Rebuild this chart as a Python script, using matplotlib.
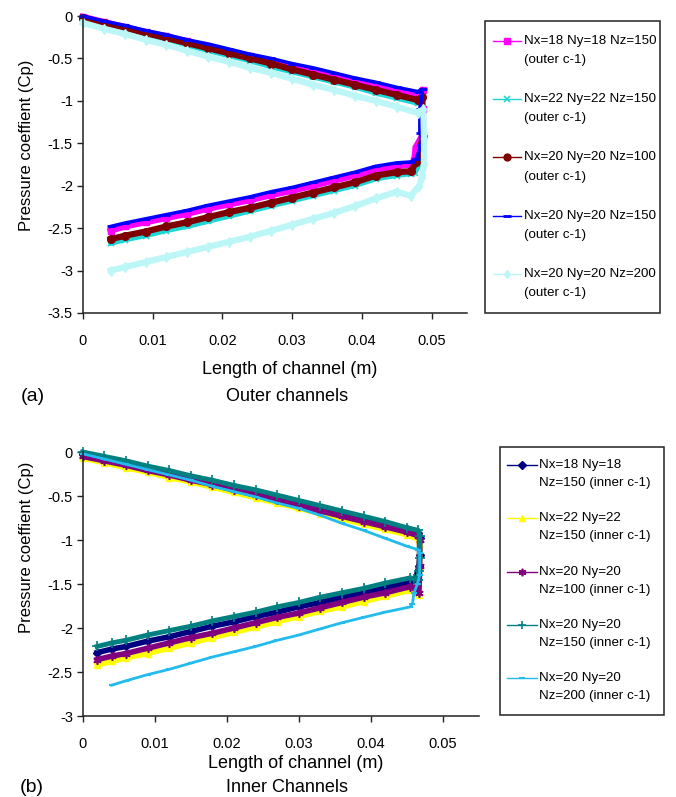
import numpy as np
import matplotlib.pyplot as plt
from matplotlib.lines import Line2D
from matplotlib.patches import Rectangle
from matplotlib.ticker import FuncFormatter

plt.rcParams['font.family'] = ['Liberation Sans', 'DejaVu Sans']
plt.rcParams['axes.unicode_minus'] = False

# ---------------- (a) outer channels ----------------
a_up_x = [0, 0.003, 0.006, 0.009, 0.012, 0.015, 0.018, 0.021, 0.024,
          0.027, 0.030, 0.033, 0.036, 0.039, 0.042, 0.045, 0.048]
a_low_x = [0.047, 0.045, 0.042, 0.039, 0.036, 0.033, 0.030, 0.027,
           0.024, 0.021, 0.018, 0.015, 0.012, 0.009, 0.006, 0.004]

a_labels = [('Nx=18 Ny=18 Nz=150', '(outer c-1)'),
            ('Nx=22 Ny=22 Nz=150', '(outer c-1)'),
            ('Nx=20 Ny=20 Nz=100', '(outer c-1)'),
            ('Nx=20 Ny=20 Nz=150', '(outer c-1)'),
            ('Nx=20 Ny=20 Nz=200', '(outer c-1)')]

a_up = [
    [-0.01, -0.07, -0.13, -0.19, -0.24, -0.30, -0.36, -0.42, -0.47,
     -0.53, -0.59, -0.65, -0.70, -0.76, -0.82, -0.88, -0.93],
    [-0.04, -0.10, -0.16, -0.23, -0.29, -0.35, -0.41, -0.47, -0.53,
     -0.60, -0.66, -0.72, -0.78, -0.84, -0.91, -0.97, -1.03],
    [-0.02, -0.08, -0.14, -0.20, -0.26, -0.32, -0.38, -0.44, -0.50,
     -0.56, -0.63, -0.69, -0.75, -0.81, -0.87, -0.93, -0.99],
    [0.00, -0.06, -0.11, -0.17, -0.22, -0.28, -0.33, -0.39, -0.45,
     -0.50, -0.56, -0.61, -0.67, -0.73, -0.78, -0.84, -0.89],
    [-0.08, -0.15, -0.21, -0.28, -0.34, -0.41, -0.48, -0.54, -0.61,
     -0.67, -0.74, -0.81, -0.87, -0.94, -1.00, -1.07, -1.14],
]
a_turn_x = [
    [0.0487, 0.0487, 0.0487, 0.0477, 0.0475],
    [0.0486, 0.0488, 0.0482, 0.0476],
    [0.0486, 0.0486, 0.0484, 0.0478],
    [0.0487, 0.0483, 0.0483, 0.0487, 0.0485, 0.0478],
    [0.0488, 0.0489, 0.0489, 0.0486, 0.0482],
]
a_turn_y = [
    [-0.87, -1.10, -1.40, -1.55, -1.70],
    [-1.00, -1.50, -1.75, -1.85],
    [-0.95, -1.50, -1.60, -1.72],
    [-0.86, -1.10, -1.38, -1.42, -1.52, -1.68],
    [-1.10, -1.45, -1.75, -1.90, -2.00],
]
a_low = [
    [-1.75, -1.77, -1.81, -1.88, -1.94, -2.00, -2.06, -2.11,
     -2.17, -2.22, -2.27, -2.33, -2.38, -2.43, -2.48, -2.53],
    [-1.86, -1.88, -1.92, -2.00, -2.06, -2.12, -2.18, -2.24,
     -2.30, -2.36, -2.42, -2.48, -2.53, -2.59, -2.64, -2.68],
    [-1.83, -1.84, -1.88, -1.96, -2.02, -2.08, -2.14, -2.20,
     -2.26, -2.31, -2.37, -2.43, -2.48, -2.54, -2.59, -2.63],
    [-1.72, -1.73, -1.77, -1.84, -1.90, -1.96, -2.02, -2.07,
     -2.13, -2.18, -2.23, -2.29, -2.34, -2.39, -2.44, -2.48],
    [-2.12, -2.07, -2.15, -2.24, -2.32, -2.39, -2.46, -2.53,
     -2.60, -2.66, -2.72, -2.78, -2.84, -2.90, -2.96, -3.00],
]

# ---------------- (b) inner channels ----------------
b_up_x = [0, 0.003, 0.006, 0.009, 0.012, 0.015, 0.018, 0.021, 0.024,
          0.027, 0.030, 0.033, 0.036, 0.039, 0.042, 0.045, 0.0466]
b_low_x = [0.0455, 0.042, 0.039, 0.036, 0.033, 0.030, 0.027, 0.024,
           0.021, 0.018, 0.015, 0.012, 0.009, 0.006, 0.004, 0.002]

b_labels = [('Nx=18 Ny=18', 'Nz=150 (inner c-1)'),
            ('Nx=22 Ny=22', 'Nz=150 (inner c-1)'),
            ('Nx=20 Ny=20', 'Nz=100 (inner c-1)'),
            ('Nx=20 Ny=20', 'Nz=150 (inner c-1)'),
            ('Nx=20 Ny=20', 'Nz=200 (inner c-1)')]

b_up = [
    [-0.02, -0.07, -0.12, -0.18, -0.23, -0.29, -0.35, -0.40, -0.46,
     -0.52, -0.58, -0.64, -0.70, -0.76, -0.82, -0.88, -0.92],
    [-0.07, -0.12, -0.18, -0.23, -0.29, -0.34, -0.40, -0.46, -0.52,
     -0.58, -0.64, -0.70, -0.76, -0.82, -0.88, -0.94, -0.99],
    [-0.05, -0.10, -0.15, -0.21, -0.26, -0.32, -0.37, -0.43, -0.49,
     -0.55, -0.61, -0.67, -0.73, -0.79, -0.85, -0.91, -0.95],
    [0.00, -0.05, -0.10, -0.16, -0.21, -0.27, -0.32, -0.38, -0.43,
     -0.49, -0.55, -0.61, -0.67, -0.73, -0.79, -0.86, -0.89],
    [-0.02, -0.08, -0.14, -0.20, -0.26, -0.32, -0.39, -0.45, -0.51,
     -0.58, -0.64, -0.72, -0.81, -0.89, -0.98, -1.07, -1.11],
]
b_turn_x = [
    [0.0468, 0.0468, 0.0467, 0.0462],
    [0.0468, 0.0468, 0.0467, 0.0462],
    [0.0468, 0.0468, 0.0467, 0.0462],
    [0.0468, 0.0468, 0.0467, 0.0465, 0.0460],
    [0.0468, 0.0468, 0.0465, 0.0460, 0.0458],
]
b_turn_y = [
    [-0.98, -1.17, -1.30, -1.45],
    [-1.05, -1.30, -1.62, -1.60],
    [-1.00, -1.30, -1.60, -1.55],
    [-0.95, -1.20, -1.35, -1.45, -1.44],
    [-1.15, -1.40, -1.50, -1.60, -1.73],
]
b_low = [
    [-1.48, -1.54, -1.60, -1.65, -1.71, -1.76, -1.82, -1.87,
     -1.93, -1.98, -2.04, -2.10, -2.15, -2.21, -2.24, -2.28],
    [-1.57, -1.64, -1.70, -1.76, -1.81, -1.87, -1.93, -1.99,
     -2.05, -2.11, -2.17, -2.23, -2.29, -2.34, -2.38, -2.42],
    [-1.53, -1.60, -1.65, -1.71, -1.77, -1.83, -1.88, -1.94,
     -2.00, -2.06, -2.11, -2.17, -2.23, -2.29, -2.32, -2.36],
    [-1.43, -1.49, -1.55, -1.60, -1.65, -1.71, -1.76, -1.82,
     -1.87, -1.92, -1.98, -2.03, -2.08, -2.14, -2.17, -2.21],
    [-1.76, -1.82, -1.88, -1.94, -2.01, -2.08, -2.14, -2.21,
     -2.27, -2.33, -2.40, -2.47, -2.53, -2.60, -2.65, np.nan],
]

# styles
a_style = [
    dict(color='#FF00FF', marker='s', ms=5, lw=4.5),
    dict(color='#1ED6D6', marker='x', ms=5, mew=1.2, lw=3.5),
    dict(color='#7F0000', marker='o', ms=5.5, lw=4.5),
    dict(color='#0000FF', marker='_', ms=6, mew=2, lw=2.5),
    dict(color='#BDF6F6', marker='d', ms=5, lw=4.5),
]
b_style = [
    dict(color='#000080', marker='D', ms=4.5, lw=4),
    dict(color='#FFFF00', marker='^', ms=5, lw=4),
    dict(color='#800080', marker=(6, 2, 0), ms=6, mew=1.2, lw=4),
    dict(color='#008080', marker='+', ms=7, mew=1.2, lw=3.5),
    dict(color='#22BBEE', marker='_', ms=5, mew=1.5, lw=2),
]

W, H = 676, 797
fig = plt.figure(figsize=(W / 100, H / 100), dpi=100)


def fx(px):
    return px / W


def fy(py):
    return 1 - py / H


ax_a = fig.add_axes([fx(82.7), fy(313), (466.6 - 82.7) / W, (313 - 16) / H])
ax_b = fig.add_axes([fx(82.7), fy(716), (478.7 - 82.7) / W, (716 - 452) / H])


def fmt(v, pos):
    s = ('%.2f' % v).rstrip('0').rstrip('.')
    return '0' if s in ('-0', '0') else s


def draw(ax, ux, lx, ups, tx, ty, lows, styles):
    for up, txs, tys, low, st in zip(ups, tx, ty, lows, styles):
        xs = list(ux) + txs + list(lx)
        ys = up + tys + low
        ax.plot(xs, ys, color=st['color'], lw=st['lw'], marker=st['marker'],
                ms=st['ms'], mew=st.get('mew', 1), clip_on=False,
                solid_joinstyle='round')
    for s in ['top', 'right']:
        ax.spines[s].set_visible(False)
    for s in ['left', 'bottom']:
        ax.spines[s].set_linewidth(1.1)
        ax.spines[s].set_color('#222222')
    ax.set_xlim(0, 0.055)
    ax.set_xticks([0, 0.01, 0.02, 0.03, 0.04, 0.05])
    ax.xaxis.set_major_formatter(FuncFormatter(fmt))
    ax.yaxis.set_major_formatter(FuncFormatter(fmt))
    ax.tick_params(direction='out', length=4, width=1, labelsize=10.5,
                   color='#222222', pad=3)
    ax.tick_params(axis='x', pad=11)


draw(ax_a, a_up_x, a_low_x, a_up, a_turn_x, a_turn_y, a_low, a_style)
ax_a.set_ylim(-3.5, 0)
ax_a.set_yticks(np.arange(-3.5, 0.01, 0.5))

draw(ax_b, b_up_x, b_low_x, b_up, b_turn_x, b_turn_y, b_low, b_style)
ax_b.set_ylim(-3, 0)
ax_b.set_yticks(np.arange(-3, 0.01, 0.5))


def add_legend(labels, styles, box, hx0, hx1, y0, step, pitch):
    x0, y_top, x1, y_bot = box
    fig.add_artist(Rectangle((fx(x0), fy(y_bot)), (x1 - x0) / W,
                             (y_bot - y_top) / H, transform=fig.transFigure,
                             fill=True, facecolor='white',
                             edgecolor='#222222', lw=1.1))
    for i, ((l1, l2), st) in enumerate(zip(labels, styles)):
        y = y0 + step * i
        xm = (hx0 + hx1) / 2
        fig.add_artist(Line2D([fx(hx0), fx(xm), fx(hx1)], [fy(y)] * 3,
                              transform=fig.transFigure, color=st['color'],
                              lw=1, marker=st['marker'], markevery=[1],
                              ms=st['ms'] * 0.9, mew=st.get('mew', 1)))
        fig.text(fx(hx1 + 2.5), fy(y), l1, ha='left', va='center',
                 fontsize=9.6)
        fig.text(fx(hx1 + 2.5), fy(y + pitch), l2, ha='left', va='center',
                 fontsize=9.6)


add_legend(a_labels, a_style, (485, 21, 660, 313), 493, 521, 41, 58.2, 19.3)
add_legend(b_labels, b_style, (500, 447, 664, 715), 506.7, 536.7, 465,
           53.3, 18)

fig.text(fx(27), fy(145), 'Pressure coeffient (Cp)', rotation=90,
         ha='center', va='center', fontsize=12)
fig.text(fx(290), fy(369), 'Length of channel (m)', ha='center',
         va='center', fontsize=13)
fig.text(fx(287), fy(397), 'Outer channels', ha='center', va='center',
         fontsize=13)
fig.text(fx(33), fy(397), '(a)', ha='center', va='center', fontsize=14)

fig.text(fx(27), fy(547), 'Pressure coeffient (Cp)', rotation=90,
         ha='center', va='center', fontsize=12)
fig.text(fx(296), fy(763), 'Length of channel (m)', ha='center',
         va='center', fontsize=13)
fig.text(fx(287), fy(787), 'Inner Channels', ha='center', va='center',
         fontsize=13)
fig.text(fx(32), fy(787), '(b)', ha='center', va='center', fontsize=14)

fig.savefig('out.png', dpi=100)
